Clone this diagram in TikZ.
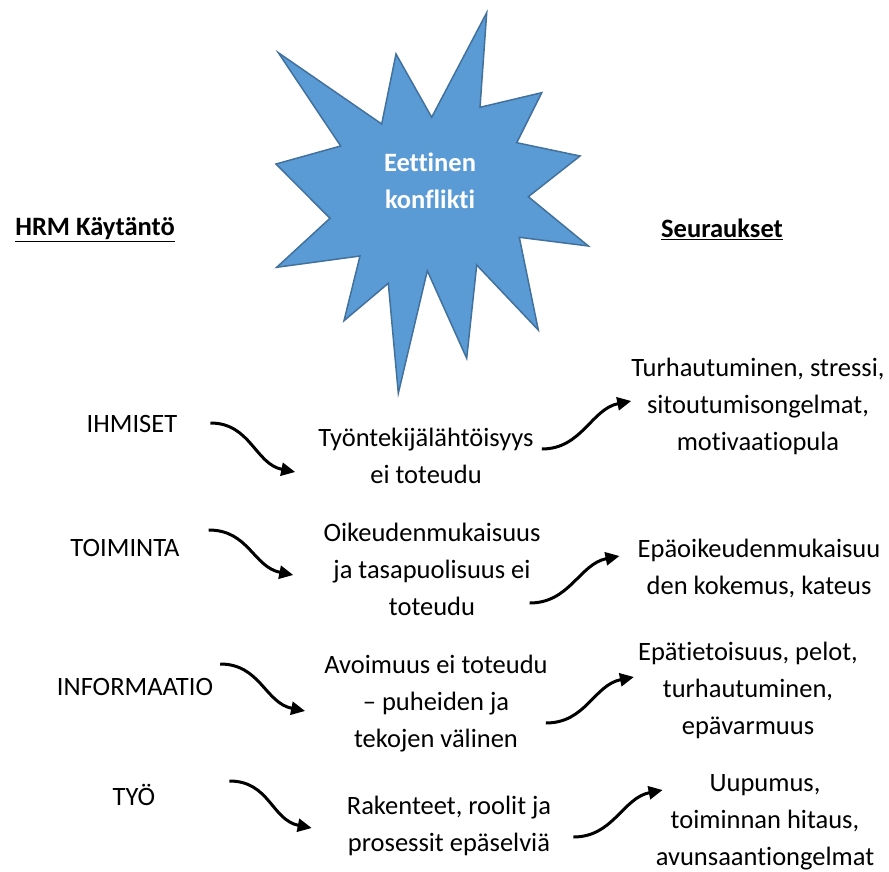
\documentclass[tikz,border=0pt]{standalone}
\usepackage{fontspec}
\setmainfont{Carlito}[Ligatures=NoCommon]
\usetikzlibrary{arrows.meta}
\definecolor{starFillColor}{HTML}{5B9BD5}
\definecolor{starLineColor}{HTML}{41719C}
\definecolor{starTextColor}{HTML}{FFFFFF}
\definecolor{labelTextColor}{HTML}{000000}
\definecolor{linkColor}{HTML}{000000}
\def\textHeadA{HRM Käytäntö}
\def\textHeadB{Seuraukset}
\def\textStar{Eettinen\\konflikti}
\def\textA{IHMISET}
\def\textB{TOIMINTA}
\def\textC{INFORMAATIO}
\def\textD{TYÖ}
\def\textCauseA{Työntekijälähtöisyys\\ei toteudu}
\def\textCauseB{Oikeudenmukaisuus\\ja tasapuolisuus ei\\toteudu}
\def\textCauseC{Avoimuus ei toteudu\\– puheiden ja\\tekojen välinen}
\def\textCauseD{Rakenteet, roolit ja\\prosessit epäselviä}
\def\textEffectA{Turhautuminen, stressi,\\sitoutumisongelmat,\\motivaatiopula}
\def\textEffectB{Epäoikeudenmukaisuu\\den kokemus, kateus}
\def\textEffectC{Epätietoisuus, pelot,\\turhautuminen,\\epävarmuus}
\def\textEffectD{Uupumus,\\toiminnan hitaus,\\avunsaantiongelmat}
\tikzset{
  lbl/.style={inner sep=0pt, align=center, text=labelTextColor,
    font=\fontsize{26.5bp}{37bp}\selectfont},
  head/.style={lbl, font=\fontsize{26.5bp}{37bp}\selectfont\bfseries},
  link/.style={draw=linkColor, line width=3bp,
    -{Triangle[length=14bp, width=13bp]}}
}

\begin{document}
\begin{tikzpicture}[x=1bp,y=-1bp]
\useasboundingbox (0, 0) rectangle (889, 872);

% star layer
\begin{scope}
\filldraw[fill=starFillColor, draw=starLineColor, line width=1.5bp, line join=miter]
(486.7, 12.7) -- (480.0, 107.3) -- (541.7, 92.7) -- (516.7, 142.7) --
(580.0, 156.0) -- (528.3, 196.7) -- (588.3, 246.0) -- (519.3, 237.3) --
(538.3, 330.0) -- (476.7, 265.0) -- (466.7, 358.3) -- (427.3, 270.7) --
(398.3, 393.3) -- (388.3, 283.3) -- (344.0, 320.7) -- (360.0, 256.0) --
(276.7, 267.3) -- (330.0, 218.3) -- (276.0, 164.0) -- (340.7, 146.0) --
(278.3, 52.7) -- (381.7, 124.0) -- (396.0, 54.0) -- (431.7, 117.3) -- cycle;
\node[head, text=starTextColor] (conflict) at (430, 181) {\textStar};
\end{scope}

% label layer
\begin{scope}
\node[head] (headPractice) at (95, 230) {\underline{\textHeadA}};
\node[head] (headResults) at (722, 229) {\underline{\textHeadB}};

\node[lbl] (people) at (132, 424) {\textA};
\node[lbl] (action) at (125, 548) {\textB};
\node[lbl] (information) at (135, 687) {\textC};
\node[lbl] (work) at (134, 795) {\textD};

\node[lbl] (causeA) at (426, 456) {\textCauseA};
\node[lbl] (causeB) at (432, 569) {\textCauseB};
\node[lbl] (causeC) at (436, 704) {\textCauseC};
\node[lbl] (causeD) at (449, 826) {\textCauseD};

\node[lbl] (effectA) at (758, 406) {\textEffectA};
\node[lbl] (effectB) at (759, 568) {\textEffectB};
\node[lbl] (effectC) at (748, 690) {\textEffectC};
\node[lbl] (effectD) at (765, 822) {\textEffectD};
\end{scope}

% link layer
\begin{scope}
\draw[link] ([xshift=33bp, yshift=1bp]people.east) .. controls
+(40, 0) and +(-40, -8) .. ([xshift=-23bp, yshift=-16bp]causeA.west);
\draw[link] ([xshift=29bp, yshift=18bp]action.east) .. controls
+(40, 0) and +(-40, -8) .. ([xshift=-30bp, yshift=-6bp]causeB.west);
\draw[link] ([xshift=7bp, yshift=23bp]information.east) .. controls
+(40, 0) and +(-40, -8) .. ([xshift=-19bp, yshift=-7bp]causeC.west);
\draw[link] ([xshift=74bp, yshift=14bp]work.east) .. controls
+(40, 0) and +(-40, -8) .. ([xshift=-35bp, yshift=-2bp]causeD.west);

\draw[link] ([xshift=8bp, yshift=7bp]causeA.east) .. controls
+(40, 0) and +(-40, 8) .. ([yshift=5bp]effectA.west);
\draw[link] ([xshift=-11bp, yshift=-34bp]causeB.east) .. controls
+(40, 0) and +(-40, 8) .. ([xshift=-18bp, yshift=12bp]effectB.west);
\draw[link] ([xshift=-2bp, yshift=-19bp]causeC.east) .. controls
+(40, 0) and +(-40, 8) .. ([xshift=-4bp, yshift=13bp]effectC.west);
\draw[link] ([xshift=22bp, yshift=-11bp]causeD.east) .. controls
+(40, 0) and +(-40, 8) .. ([xshift=7bp, yshift=32bp]effectD.west);
\end{scope}

\end{tikzpicture}
\end{document}
